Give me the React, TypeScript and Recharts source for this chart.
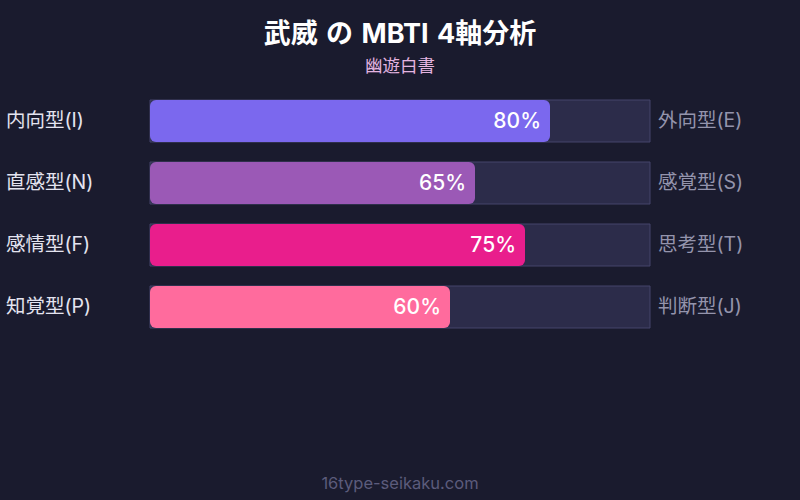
import React from "react";
import { BarChart, Bar, XAxis, YAxis, Cell, LabelList } from "recharts";

const leftLabels = ["内向型(I)", "直感型(N)", "感情型(F)", "知覚型(P)"];
const rightLabels = ["外向型(E)", "感覚型(S)", "思考型(T)", "判断型(J)"];
const values = [80, 65, 75, 60];
const colors = ["#7b68ee", "#9b59b6", "#e91e8c", "#ff6b9d"];

const data = leftLabels.map((l, i) => ({ left: l, right: rightLabels[i], value: values[i] }));

const FONT = "Inter, 'Noto Sans CJK JP', sans-serif";

const LeftTick = (props: any) => (
  <text x={6} y={props.y} dy={6} textAnchor="start" fill="#e4e4f0" fontSize={19.5} fontFamily={FONT}>
    {props.payload.value}
  </text>
);
const RightTick = (props: any) => (
  <text x={props.x} y={props.y} dy={6} textAnchor="start" fill="#9494ac" fontSize={19.5} fontFamily={FONT}>
    {props.payload.value}
  </text>
);

export default function App() {
  return (
    <div style={{ position: "fixed", left: 0, top: 0, width: 800, height: 500, background: "#1a1b2e", fontFamily: FONT }}>
      <div style={{ position: "absolute", top: 12, width: 800, textAlign: "center", color: "#ffffff", fontSize: 27, fontWeight: 700, wordSpacing: 2 }}>
        武威 の MBTI 4軸分析
      </div>
      <div style={{ position: "absolute", top: 52, width: 800, textAlign: "center", color: "#e4b4e0", fontSize: 17.5 }}>
        幽遊白書
      </div>
      <div style={{ position: "absolute", top: 473, width: 800, textAlign: "center", color: "#5c5c7c", fontSize: 16.5 }}>
        16type-seikaku.com
      </div>
      <div style={{ position: "absolute", left: 0, top: 0 }}>
        <BarChart width={800} height={500} data={data} layout="vertical" margin={{ top: 90, bottom: 162, left: 0, right: 0 }} barSize={42}>
          <XAxis type="number" domain={[0, 100]} hide />
          <YAxis yAxisId="l" type="category" dataKey="left" width={150} axisLine={false} tickLine={false} tickSize={0} tickMargin={0} tick={<LeftTick />} />
          <YAxis yAxisId="r" orientation="right" type="category" dataKey="right" width={150} axisLine={false} tickLine={false} tickSize={0} tickMargin={8} tick={<RightTick />} />
          <Bar yAxisId="l" dataKey="value" isAnimationActive={false} radius={6} background={{ fill: "#2c2c4a", stroke: "#45456a", strokeWidth: 1 }}>
            {data.map((d, i) => (
              <Cell key={i} fill={colors[i]} />
            ))}
            <LabelList dataKey="value" position="insideRight" offset={9} formatter={(v: any) => `${v}%`} fill="#ffffff" fontSize={21} fontWeight={500} fontFamily={FONT} />
          </Bar>
        </BarChart>
      </div>
    </div>
  );
}
